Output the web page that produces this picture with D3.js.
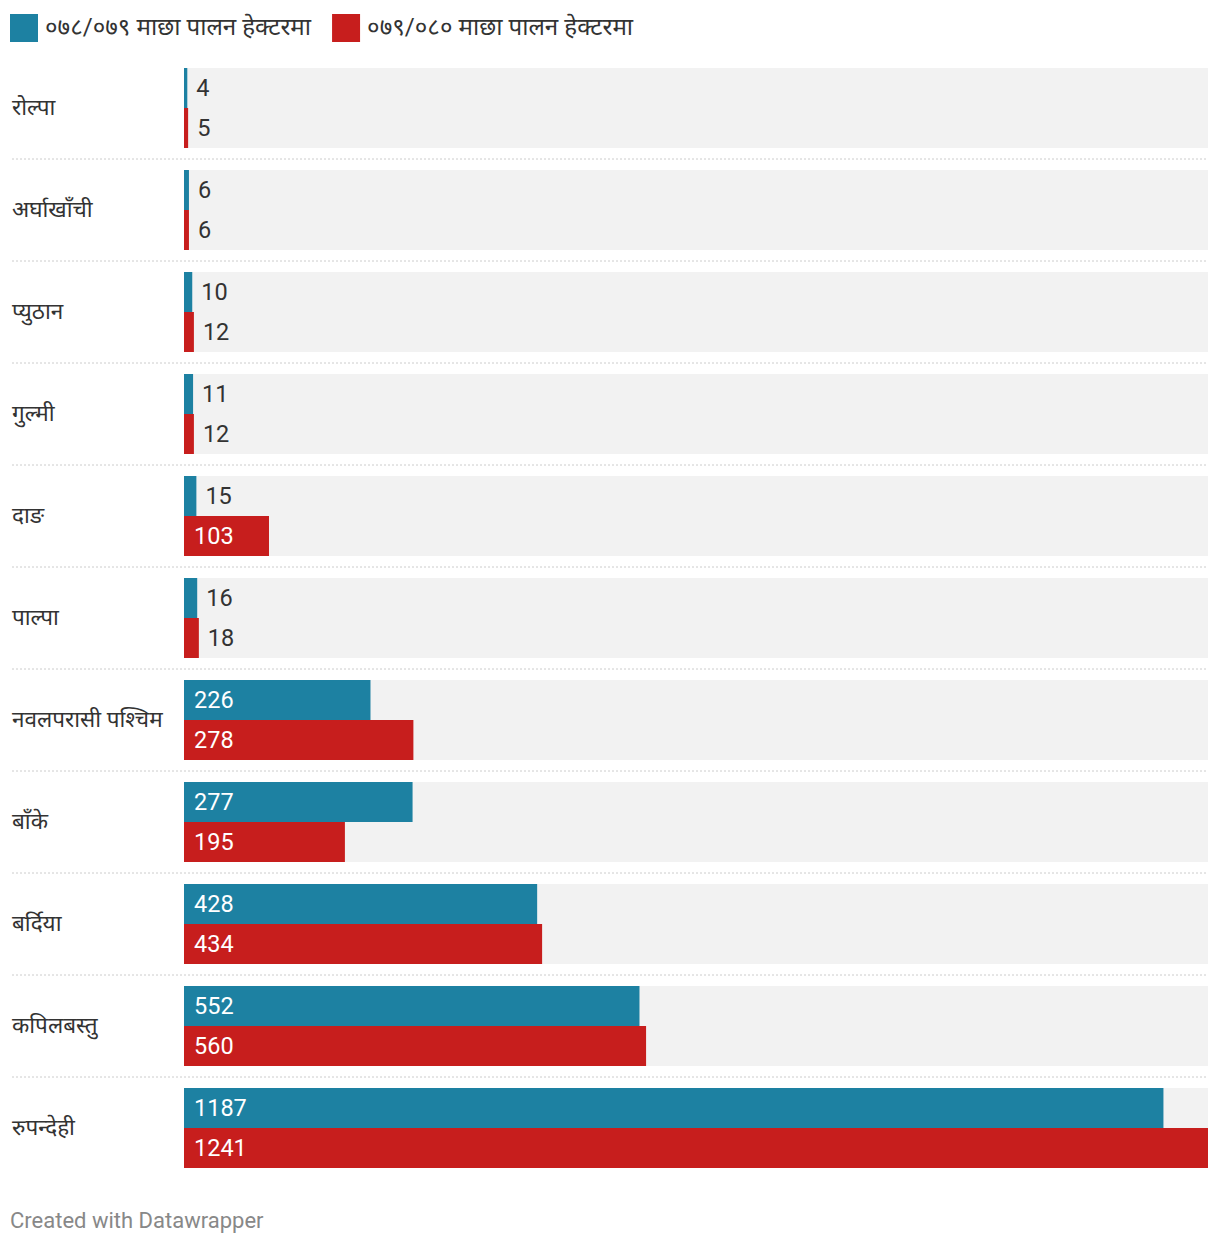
<!DOCTYPE html>
<html><head><meta charset="utf-8">
<script src="https://cdn.jsdelivr.net/npm/d3@7"></script>
<style>
body{margin:0;background:#fff;font-family:Roboto,"Noto Sans",sans-serif;}
</style></head><body>
<svg id="c" width="1220" height="1246"></svg>
<script>
const categories = ["रोल्पा","अर्घाखाँची","प्युठान","गुल्मी","दाङ","पाल्पा","नवलपरासी पश्चिम","बाँके","बर्दिया","कपिलबस्तु","रुपन्देही"];
const seriesNames = ["०७८/०७९ माछा पालन हेक्टरमा","०७९/०८० माछा पालन हेक्टरमा"];
const values2078 = [4,6,10,11,15,16,226,277,428,552,1187];
const values2079 = [5,6,12,12,103,18,278,195,434,560,1241];
const colors = ["#1d81a2","#c71e1d"];

const svg = d3.select("#c");
const font = 'Roboto,"Noto Sans",sans-serif';

// legend
let lx = 10;
seriesNames.forEach((n,i)=>{
  svg.append("rect").attr("x",lx).attr("y",14).attr("width",28).attr("height",28).attr("fill",colors[i]);
  const t = svg.append("text").attr("x",lx+35).attr("y",35).attr("font-size",24.2).attr("fill","#333").attr("font-family",font).text(n);
  lx = lx + 35 + t.node().getComputedTextLength() + 21;
});

const x = d3.scaleLinear().domain([0,d3.max(values2079.concat(values2078))]).range([184,1208]);
const yb = d3.scaleBand().domain(categories).range([68, 68+102*11-22]).paddingInner(22/102).paddingOuter(0);
const sub = d3.scaleBand().domain([0,1]).range([0,yb.bandwidth()]);

categories.forEach((c,i)=>{
  const g = svg.append("g").attr("transform",`translate(0,${yb(c)})`);
  g.append("rect").attr("x",x(0)).attr("y",0).attr("width",x.range()[1]-x(0)).attr("height",yb.bandwidth()).attr("fill","#f2f2f2");
  g.append("text").attr("x",12).attr("y",yb.bandwidth()/2+7).attr("font-size",22.5).attr("fill","#333").attr("font-family",font).text(c);
  [values2078[i],values2079[i]].forEach((v,j)=>{
    const w = x(v)-x(0);
    g.append("rect").attr("x",x(0)).attr("y",sub(j)).attr("width",w).attr("height",sub.bandwidth()).attr("fill",colors[j]);
    const t = g.append("text").attr("y",sub(j)+sub.bandwidth()/2+8).attr("font-size",23.5).attr("font-family",font).text(v);
    const tw = t.node().getComputedTextLength();
    if (w > tw + 20) t.attr("x",x(0)+10).attr("fill","#fff");
    else t.attr("x",x(v)+9).attr("fill","#333");
  });
  if (i < categories.length-1) {
    const ly = yb(c)+yb.bandwidth()+11;
    svg.append("line").attr("x1",12).attr("x2",1208).attr("y1",ly).attr("y2",ly)
      .attr("stroke","#ccc").attr("stroke-width",1).attr("stroke-dasharray","2,2");
  }
});

svg.append("text").attr("x",10).attr("y",1228).attr("font-size",22).attr("fill","#888").attr("font-family",font).text("Created with Datawrapper");
</script>
</body></html>
